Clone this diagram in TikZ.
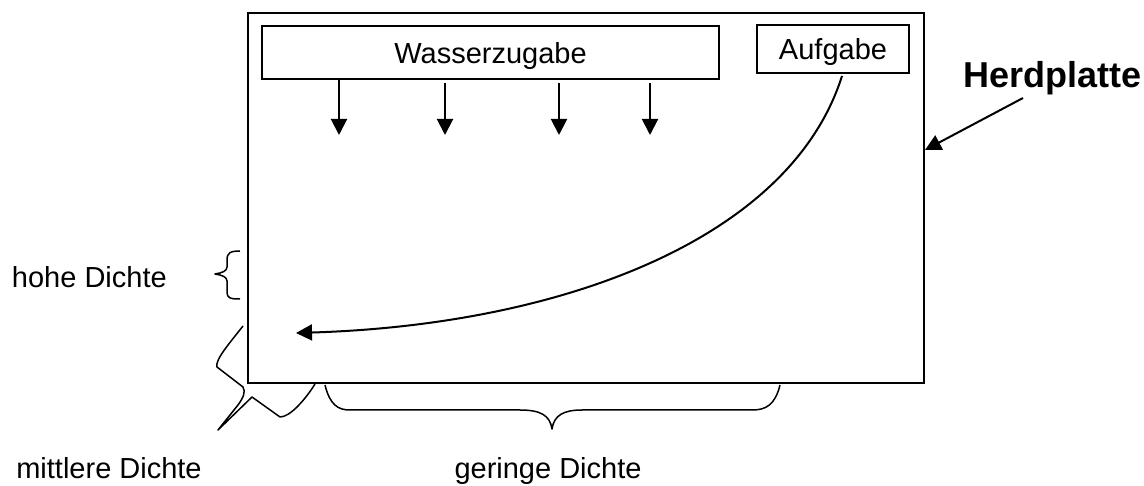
\documentclass[tikz,border=0pt]{standalone}
\usepackage{fontspec}
\setmainfont{Liberation Sans}
\usetikzlibrary{arrows.meta}
\begin{document}
\begin{tikzpicture}[x=1pt,y=-1pt, line width=2pt,
  lbl/.style={font=\fontsize{29}{34}\selectfont, inner sep=0pt},
  boxn/.style={draw, line width=2pt, inner sep=0pt, text depth=0pt, font=\fontsize{29}{34}\selectfont},
  arr/.style={line width=2pt, -{Triangle[length=16pt,width=16pt]}},
  brace/.style={line width=1.5pt, line join=round}]
\useasboundingbox (0,0) rectangle (1144,486);
% plate
\node[draw, line width=2pt, minimum width=676pt, minimum height=370pt, inner sep=0pt, anchor=north west] (plate) at (247,12) {};
% boxes
\node[boxn, minimum width=457pt, minimum height=53pt] (wz) at (490.5,52.5) {Wasserzugabe};
\node[boxn, minimum width=152pt, minimum height=48pt] (auf) at (833,49) {Aufgabe};
% water arrows
\coordinate (a1) at (339,135);
\coordinate (a2) at (445,135);
\coordinate (a3) at (559,135);
\coordinate (a4) at (650,135);
\draw[arr] (a1 |- wz.south) -- (a1);
\draw[arr] (a2 |- wz.south) ++(0,3) -- (a2);
\draw[arr] (a3 |- wz.south) ++(0,3) -- (a3);
\draw[arr] (a4 |- wz.south) ++(0,3) -- (a4);
% feed curve
\coordinate (cs) at (842,76);
\coordinate (ce) at (296,333);
\draw[arr] (cs) .. controls (790,240) and (560,325) .. (ce);
% Herdplatte
\node[font=\fontsize{36}{42}\selectfont\bfseries, inner sep=0pt, anchor=base west] (herd) at (962,88) {Herdplatte};
\coordinate (h1) at (1023,98);
\draw[arr] (h1) -- (plate.east |- 0,150);
% hohe Dichte
\node[lbl, anchor=base west] (hohe) at (11,288) {hohe Dichte};
\draw[brace] (240,251) .. controls (230,251) and (227,253) .. (227,260) -- (227,267)
  .. controls (227,271) and (222,273) .. (215,274)
  .. controls (222,275) and (227,277) .. (227,281) -- (227,292)
  .. controls (227,298) and (230,299) .. (240,299);
% broken brace (mittlere Dichte)
\draw[brace] (243,326) .. controls (228,345) and (215,360) .. (217,367) -- (243,387)
  .. controls (246,392) and (243,398) .. (238,405) -- (218,430) -- (252,397) -- (280,417)
  .. controls (290,417) and (305,400) .. (315,384);
% bottom brace (geringe Dichte)
\draw[brace] (325,385) .. controls (330,405) and (338,410) .. (350,410) -- (520,410)
  .. controls (540,410) and (550,415) .. (552,429)
  .. controls (554,415) and (564,410) .. (582,410) -- (752,410)
  .. controls (766,410) and (775,405) .. (780,385);
% labels
\node[lbl, anchor=base] (mitt) at (109,478) {mittlere Dichte};
\node[lbl, anchor=base] (ger) at (548,478) {geringe Dichte};
\end{tikzpicture}
\end{document}
